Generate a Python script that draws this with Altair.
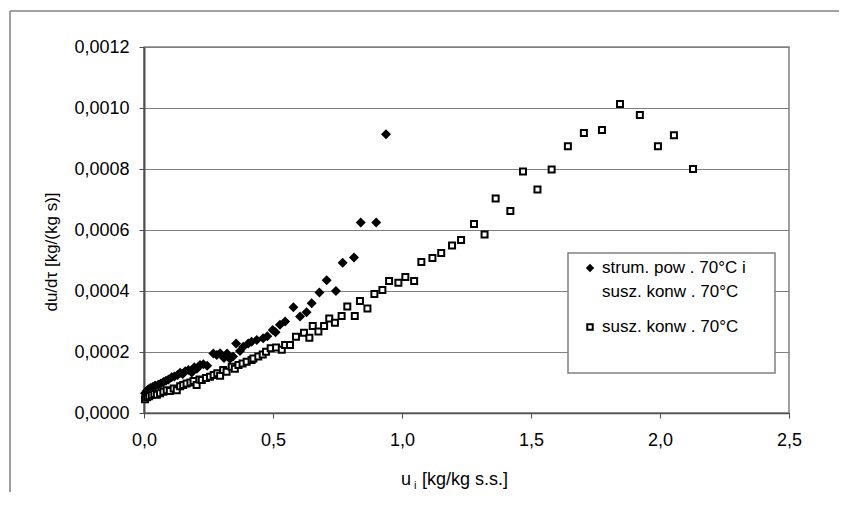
import altair as alt
import pandas as pd

# series 1: strum. pow. 70°C i susz. konw. 70°C (filled diamonds)
u_strum = [0.004, 0.010, 0.017, 0.025, 0.035, 0.043, 0.055, 0.065, 0.075, 0.085,
           0.095, 0.107, 0.118, 0.130, 0.140, 0.150, 0.160, 0.172, 0.185, 0.195,
           0.205, 0.217, 0.230, 0.245, 0.269, 0.282, 0.295, 0.310, 0.322, 0.333,
           0.345, 0.357, 0.372, 0.385, 0.404, 0.417, 0.437, 0.462, 0.478, 0.499,
           0.510, 0.527, 0.547, 0.579, 0.605, 0.630, 0.650, 0.680, 0.708, 0.744,
           0.770, 0.814, 0.840, 0.900, 0.938]
v_strum = [0.000065, 0.000072, 0.000078, 0.000082, 0.000086, 0.000090, 0.000093, 0.000097, 0.000102, 0.000106,
           0.000110, 0.000117, 0.000120, 0.000125, 0.000132, 0.000128, 0.000137, 0.000141, 0.000133, 0.000150,
           0.000145, 0.000157, 0.000160, 0.000155, 0.000195, 0.000190, 0.000196, 0.000180, 0.000195, 0.000178,
           0.000185, 0.000228, 0.000203, 0.000217, 0.000228, 0.000234, 0.000239, 0.000245, 0.000252, 0.000272,
           0.000265, 0.000289, 0.000300, 0.000347, 0.000316, 0.000330, 0.000360, 0.000395, 0.000435, 0.000400,
           0.000493, 0.000510, 0.000625, 0.000625, 0.000914]

# series 2: susz. konw. 70°C (open squares)
u_konw = [0.004, 0.012, 0.020, 0.030, 0.040, 0.050, 0.062, 0.075, 0.088, 0.100,
          0.115, 0.127, 0.140, 0.152, 0.165, 0.180, 0.192, 0.204, 0.215, 0.224,
          0.240, 0.256, 0.270, 0.284, 0.295, 0.307, 0.320, 0.340, 0.352, 0.366,
          0.382, 0.398, 0.417, 0.424, 0.443, 0.460, 0.473, 0.491, 0.512, 0.534,
          0.547, 0.566, 0.589, 0.620, 0.641, 0.654, 0.676, 0.698, 0.718, 0.740,
          0.766, 0.788, 0.817, 0.837, 0.866, 0.893, 0.924, 0.950, 0.986, 1.013,
          1.047, 1.075, 1.118, 1.152, 1.194, 1.229, 1.279, 1.320, 1.363, 1.420,
          1.469, 1.525, 1.580, 1.643, 1.705, 1.775, 1.845, 1.922, 1.992, 2.054,
          2.128]
v_konw = [0.000045, 0.000052, 0.000055, 0.000059, 0.000062, 0.000060, 0.000065, 0.000070, 0.000075, 0.000072,
          0.000080, 0.000075, 0.000088, 0.000092, 0.000097, 0.000100, 0.000105, 0.000092, 0.000110, 0.000108,
          0.000115, 0.000119, 0.000125, 0.000130, 0.000122, 0.000141, 0.000135, 0.000152, 0.000145, 0.000157,
          0.000162, 0.000168, 0.000174, 0.000179, 0.000185, 0.000192, 0.000201, 0.000212, 0.000215, 0.000207,
          0.000223, 0.000223, 0.000250, 0.000263, 0.000247, 0.000285, 0.000267, 0.000285, 0.000310, 0.000296,
          0.000318, 0.000349, 0.000318, 0.000367, 0.000343, 0.000390, 0.000403, 0.000433, 0.000427, 0.000446,
          0.000433, 0.000495, 0.000508, 0.000525, 0.000549, 0.000567, 0.000620, 0.000585, 0.000703, 0.000662,
          0.000792, 0.000733, 0.000798, 0.000875, 0.000918, 0.000928, 0.001013, 0.000977, 0.000875, 0.000911,
          0.000800]

legend_line1 = "strum. pow . 70°C i"
legend_line2 = "susz. konw . 70°C"
legend_line3 = "susz. konw . 70°C"
y_title = "du/dτ [kg/(kg s)]"

FONT = "Liberation Sans"

df1 = pd.DataFrame({"u": u_strum, "v": v_strum})
df2 = pd.DataFrame({"u": u_konw, "v": v_konw})

xscale = alt.Scale(domain=[0, 2.5], nice=False, zero=False)
yscale = alt.Scale(domain=[0, 0.0012], nice=False, zero=False)

xaxis = alt.Axis(values=[0, 0.5, 1.0, 1.5, 2.0, 2.5], grid=False, title=None,
                 labelExpr="replace(format(datum.value, '.1f'), '.', ',')",
                 tickSize=5, labelPadding=13, labelFontSize=18, labelFont=FONT,
                 labelColor="#000000", domainColor="#505050", domainWidth=1.5,
                 tickColor="#505050", labelFlush=False)
yaxis = alt.Axis(values=[0, 0.0002, 0.0004, 0.0006, 0.0008, 0.0010, 0.0012], grid=True,
                 gridColor="#808080", gridWidth=1, title=None,
                 labelExpr="replace(format(datum.value, '.4f'), '.', ',')",
                 tickSize=5, labelPadding=10, labelFontSize=18, labelFont=FONT,
                 labelColor="#000000", domainColor="#505050", domainWidth=2,
                 tickColor="#505050")

diamonds = alt.Chart(df1).mark_point(shape="diamond", filled=True, color="black",
                                     size=100, opacity=1).encode(
    x=alt.X("u:Q", scale=xscale, axis=xaxis),
    y=alt.Y("v:Q", scale=yscale, axis=yaxis),
)
squares = alt.Chart(df2).mark_point(shape="square", filled=False, stroke="black",
                                    fill="white", fillOpacity=1, strokeWidth=2,
                                    size=36, opacity=1).encode(
    x=alt.X("u:Q", scale=xscale),
    y=alt.Y("v:Q", scale=yscale),
)

one = pd.DataFrame({"k": [0]})

# legend box
leg_box = alt.Chart(one).mark_rect(fill="white", stroke="#808080", strokeWidth=1.5).encode(
    x=alt.value(424), x2=alt.value(631), y=alt.value(206), y2=alt.value(326))
leg_sym1 = alt.Chart(one).mark_point(shape="diamond", filled=True, color="black",
                                     size=70, opacity=1).encode(
    x=alt.value(446), y=alt.value(221))
leg_sym2 = alt.Chart(one).mark_point(shape="square", filled=False, stroke="black",
                                     fill="white", fillOpacity=1, strokeWidth=2,
                                     size=30, opacity=1).encode(
    x=alt.value(446), y=alt.value(280))

def txt(s, x, y, size=17, align="left", angle=0):
    return alt.Chart(one).mark_text(text=s, font=FONT, fontSize=size, align=align,
                                    baseline="middle", color="#000000", angle=angle).encode(
        x=alt.value(x), y=alt.value(y))

leg_t1 = txt(legend_line1, 458, 221)
leg_t2 = txt(legend_line2, 458, 245)
leg_t3 = txt(legend_line3, 458, 280)

# axis titles
xt_u = txt("u", 257, 433, size=18)
xt_i = txt("i", 270, 439, size=11)
xt_rest = txt("[kg/kg s.s.]", 278, 433, size=18)
yt = txt(y_title, -92, 205, angle=270, align="center")

# outer frame: top and left edges
frame_top = alt.Chart(one).mark_rule(color="#808080", strokeWidth=1.5).encode(
    x=alt.value(-134), x2=alt.value(720), y=alt.value(-36))
frame_left = alt.Chart(one).mark_rule(color="#808080", strokeWidth=1.5).encode(
    x=alt.value(-134), y=alt.value(-36), y2=alt.value(445))

chart = alt.layer(
    frame_top, frame_left,
    diamonds, squares,
    leg_box, leg_sym1, leg_sym2, leg_t1, leg_t2, leg_t3,
    xt_u, xt_i, xt_rest, yt,
).properties(
    width=645, height=366,
    autosize=alt.AutoSizeParams(type="none"),
    padding={"left": 136, "top": 39, "right": 50, "bottom": 84},
    background="white",
).configure_view(stroke="#808080", strokeWidth=1.5)

chart.save("out.html", embed_options={"renderer": "svg", "actions": False})
